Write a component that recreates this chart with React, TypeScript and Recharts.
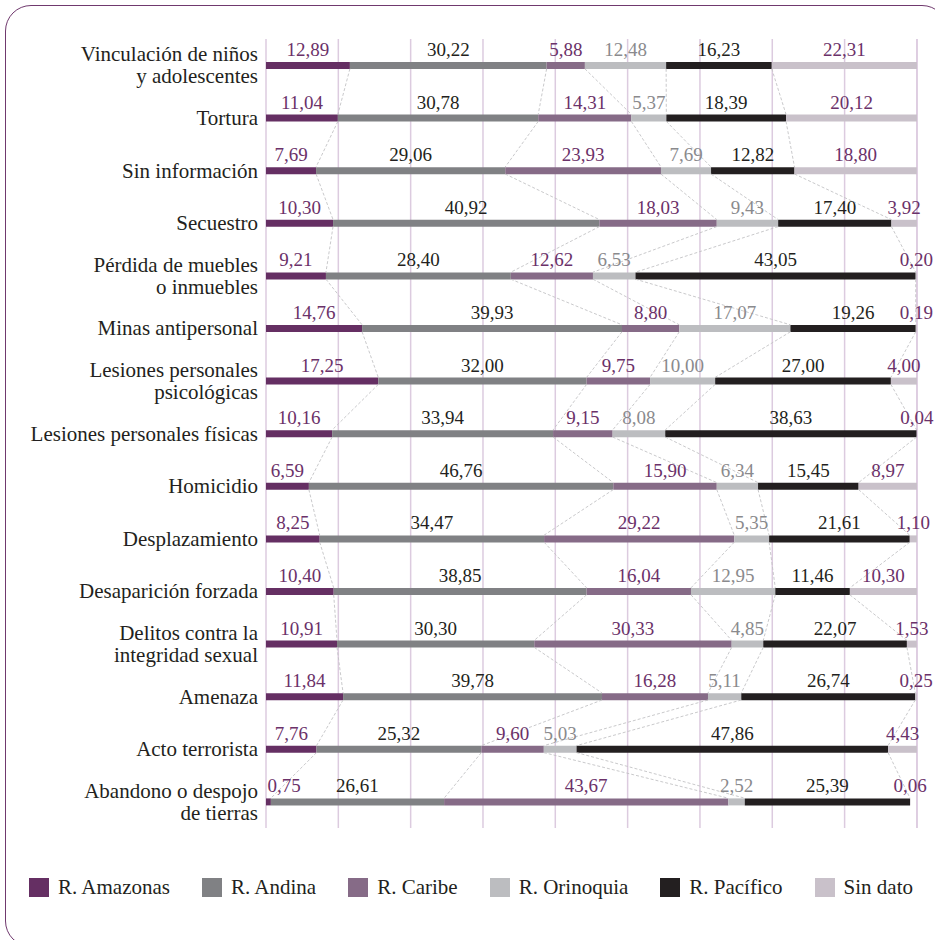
import React from "react";
import {
  BarChart,
  Bar,
  XAxis,
  YAxis,
  CartesianGrid,
  ReferenceLine,
  LabelList,
  Legend,
} from "recharts";

// Tipos de hecho victimizante (rows, top to bottom)
const categories = [
  "Vinculación de niños\ny adolescentes",
  "Tortura",
  "Sin información",
  "Secuestro",
  "Pérdida de muebles\no inmuebles",
  "Minas antipersonal",
  "Lesiones personales\npsicológicas",
  "Lesiones personales físicas",
  "Homicidio",
  "Desplazamiento",
  "Desaparición forzada",
  "Delitos contra la\nintegridad sexual",
  "Amenaza",
  "Acto terrorista",
  "Abandono o despojo\nde tierras",
];

// Percentage share per region
const amazonas = [12.89, 11.04, 7.69, 10.3, 9.21, 14.76, 17.25, 10.16, 6.59, 8.25, 10.4, 10.91, 11.84, 7.76, 0.75];
const andina = [30.22, 30.78, 29.06, 40.92, 28.4, 39.93, 32.0, 33.94, 46.76, 34.47, 38.85, 30.3, 39.78, 25.32, 26.61];
const caribe = [5.88, 14.31, 23.93, 18.03, 12.62, 8.8, 9.75, 9.15, 15.9, 29.22, 16.04, 30.33, 16.28, 9.6, 43.67];
const orinoquia = [12.48, 5.37, 7.69, 9.43, 6.53, 17.07, 10.0, 8.08, 6.34, 5.35, 12.95, 4.85, 5.11, 5.03, 2.52];
const pacifico = [16.23, 18.39, 12.82, 17.4, 43.05, 19.26, 27.0, 38.63, 15.45, 21.61, 11.46, 22.07, 26.74, 47.86, 25.39];
const sinDato = [22.31, 20.12, 18.8, 3.92, 0.2, 0.19, 4.0, 0.04, 8.97, 1.1, 10.3, 1.53, 0.25, 4.43, 0.06];

// Vertical guide lines: the axis is split into nine equal parts
const gridTicks = Array.from({ length: 10 }, (_, i) => (i * 100) / 9);

const BAR_SIZE = 7;

const seriesDefs = [
  { key: "amazonas", name: "R. Amazonas", values: amazonas, fill: "#652f63", text: "#6b3169" },
  { key: "andina", name: "R. Andina", values: andina, fill: "#808184", text: "#231f20" },
  { key: "caribe", name: "R. Caribe", values: caribe, fill: "#866b87", text: "#6b3169" },
  { key: "orinoquia", name: "R. Orinoquia", values: orinoquia, fill: "#bcbdc0", text: "#8a8a8d" },
  { key: "pacifico", name: "R. Pacífico", values: pacifico, fill: "#231f20", text: "#231f20" },
  { key: "sinDato", name: "Sin dato", values: sinDato, fill: "#c9c1ca", text: "#6b3169" },
];

const data = categories.map((name, i) => {
  const row: Record<string, string | number> = { name };
  seriesDefs.forEach((s) => {
    row[s.key] = s.values[i];
  });
  return row;
});

// Running totals at each series boundary, used for the dashed series lines
const cumulative = categories.map((_, i) => {
  let sum = 0;
  return seriesDefs.slice(0, 5).map((s) => {
    sum += s.values[i];
    return sum;
  });
});

const FONT = '"Liberation Serif", "Times New Roman", "FreeSerif"';

const fmt = (v: number) => Number(v).toFixed(2).replace(".", ",");

const CategoryTick = (props: any) => {
  const { x, y, payload } = props;
  const lines = String(payload.value).split("\n");
  const lh = 22;
  const startDy = -((lines.length - 1) * lh) / 2;
  return (
    <text
      x={x}
      y={y}
      textAnchor="end"
      fill="#231f20"
      fontSize={21}
      style={{ fontFamily: FONT }}
    >
      {lines.map((ln, i) => (
        <tspan key={i} x={x} dy={i === 0 ? startDy + 7 : lh}>
          {ln}
        </tspan>
      ))}
    </text>
  );
};

const makeValueLabel = (color: string, clampLeft: boolean) => (props: any) => {
  const { x, y, width, value } = props;
  let cx = Number(x) + Number(width) / 2;
  if (clampLeft) cx = Math.max(cx, Number(x) + 18);
  return (
    <text
      x={cx}
      y={Number(y) - 6}
      textAnchor="middle"
      fill={color}
      fontSize={19}
      style={{ fontFamily: FONT }}
    >
      {fmt(value)}
    </text>
  );
};

// Series line drawn only in the gap between two neighbouring bars
const GapLine = (props: any) => {
  const { x1, y1, x2, y2 } = props;
  const half = BAR_SIZE / 2;
  const dir = y2 > y1 ? 1 : -1;
  return (
    <line
      x1={x1}
      y1={y1 + dir * half}
      x2={x2}
      y2={y2 - dir * half}
      stroke="#c3c3c5"
      strokeWidth={0.9}
      strokeDasharray="3 2"
    />
  );
};

const LegendContent = () => (
  <div
    style={{
      display: "flex",
      alignItems: "center",
      paddingLeft: 29,
      fontFamily: FONT,
      fontSize: 21,
      color: "#231f20",
      whiteSpace: "nowrap",
      width: 935,
      boxSizing: "border-box",
    }}
  >
    {seriesDefs.map((s) => (
      <div
        key={s.key}
        style={{ display: "flex", alignItems: "center", marginRight: 32, flexShrink: 0 }}
      >
        <span
          style={{
            display: "inline-block",
            width: 20,
            height: 19,
            background: s.fill,
            marginRight: 9,
          }}
        />
        <span>{s.name}</span>
      </div>
    ))}
  </div>
);

export default function App() {
  const seriesLines: React.ReactNode[] = [];
  for (let i = 0; i < categories.length - 1; i++) {
    for (let k = 0; k < 5; k++) {
      seriesLines.push(
        <ReferenceLine
          key={`sl-${i}-${k}`}
          segment={[
            { x: cumulative[i][k], y: categories[i] },
            { x: cumulative[i + 1][k], y: categories[i + 1] },
          ]}
          ifOverflow="visible"
          shape={GapLine}
        />
      );
    }
  }

  return (
    <div
      style={{
        position: "absolute",
        left: 0,
        top: 0,
        width: 935,
        height: 940,
        overflow: "hidden",
        background: "#ffffff",
      }}
    >
      <div
        style={{
          position: "absolute",
          left: 5,
          top: 5,
          width: 943,
          height: 942,
          border: "1.5px solid #70396e",
          borderRadius: 26,
          boxSizing: "border-box",
        }}
      />
      <BarChart
        width={935}
        height={940}
        layout="vertical"
        data={data}
        margin={{ top: 39, right: 18, bottom: 112, left: 8 }}
        barSize={BAR_SIZE}
        style={{ position: "absolute", left: 0, top: 0 }}
      >
        <CartesianGrid horizontal={false} stroke="#dccbdf" strokeWidth={1.5} />
        <XAxis
          type="number"
          domain={[0, 100]}
          ticks={gridTicks}
          interval={0}
          tickFormatter={() => ""}
          hide
        />
        <YAxis
          type="category"
          dataKey="name"
          width={258}
          axisLine={false}
          tickLine={false}
          interval={0}
          tick={<CategoryTick />}
        />
        {seriesLines}
        {seriesDefs.map((s, idx) => (
          <Bar
            key={s.key}
            dataKey={s.key}
            name={s.name}
            stackId="regiones"
            fill={s.fill}
            isAnimationActive={false}
          >
            <LabelList dataKey={s.key} content={makeValueLabel(s.text, idx === 0)} />
          </Bar>
        ))}
        <Legend
          verticalAlign="middle"
          align="center"
          layout="horizontal"
          content={<LegendContent />}
          wrapperStyle={{ top: 875, left: 0, width: 935, height: 24 }}
        />
      </BarChart>
    </div>
  );
}
